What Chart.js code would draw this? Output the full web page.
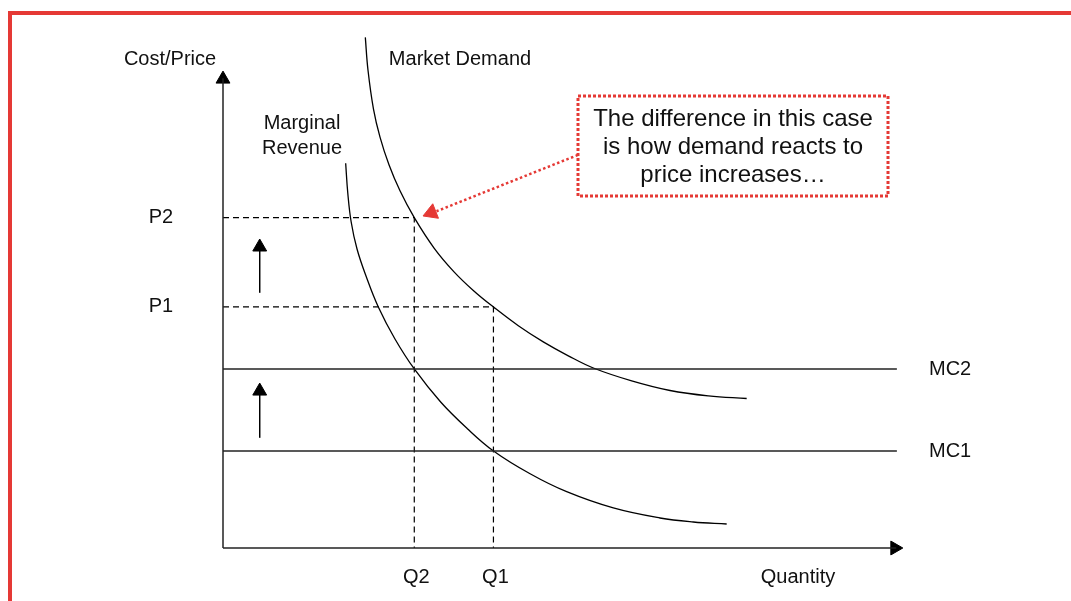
<!DOCTYPE html>
<html>
<head>
<meta charset="utf-8">
<script src="https://cdn.jsdelivr.net/npm/chart.js@4.4.1/dist/chart.umd.min.js"></script>
<style>
    body { margin: 0; background: #fff; }
    #wrap { position: relative; width: 1071px; height: 601px; overflow: hidden; }
    #frame { position: absolute; left: 8px; top: 11px; right: 0; bottom: 0;
             border-top: 4px solid #e53935; border-left: 4px solid #e53935; pointer-events: none; }
</style>
</head>
<body>
<div id="wrap">
    <canvas id="myChart" width="1071" height="601"></canvas>
    <div id="frame"></div>
</div>
<script>
// curves (quantity 0-100, price 0-110)
const demandQ = [20.93, 21.32, 22.13, 23.09, 24.41, 26.03, 28.13, 31.04, 33.94, 36.85, 39.75, 43.43, 47.10, 50.78, 54.46, 60.10, 65.74, 71.38, 77.01];
const demandP = [107.06, 100.21, 92.03, 86.14, 80.34, 74.88, 69.25, 62.88, 57.95, 53.94, 50.55, 46.60, 43.21, 40.29, 37.74, 35.04, 33.02, 31.89, 31.34];

const mrQ = [18.04, 18.35, 18.85, 19.71, 21.03, 22.84, 25.29, 28.13, 32.01, 35.90, 39.78, 45.16, 50.54, 57.40, 64.26, 69.16, 74.07];
const mrP = [80.65, 74.42, 68.34, 62.68, 57.02, 50.52, 43.82, 37.53, 30.61, 25.07, 20.34, 15.56, 11.80, 8.39, 6.29, 5.45, 5.03];

const priceLabels = ['P1', 'P2'];
const priceLevels = [50.55, 69.25];
const qtyLabels = ['Q1', 'Q2'];
const qtyLevels = [39.77, 28.13];

const mcLabels = ['MC1', 'MC2'];
const mcLevels = [20.34, 37.53];
const mcEnd = 99.1;

// the two small "shift up" arrows
const shiftX = [5.4, 5.4];
const shiftFrom = [53.5, 23.1];
const shiftTo = [62.5, 32.3];

const noteLines = ['The difference in this case', 'is how demand reacts to', 'price increases…'];

const RED = '#e53935';
const FONT = '"Liberation Sans", Arial, Helvetica, sans-serif';

function pts(xs, ys) {
    return xs.map((x, i) => ({ x: x, y: ys[i] }));
}

function lineSet(data, opts) {
    return Object.assign({
        data: data,
        showLine: true,
        borderColor: '#000',
        borderWidth: 1.3,
        pointRadius: 0,
        fill: false,
        clip: false
    }, opts || {});
}

function headSet(x, y, rot, color, r) {
    return {
        data: [{ x: x, y: y }],
        showLine: false,
        pointStyle: 'triangle',
        rotation: rot,
        pointRadius: r || 8,
        backgroundColor: color || '#000',
        borderColor: color || '#000',
        borderWidth: 1,
        clip: false
    };
}

let datasets = [];

// axes
datasets.push(lineSet([{ x: 0, y: 0 }, { x: 0, y: 98.5 }], { borderColor: '#222', borderWidth: 1.5 }));
datasets.push(lineSet([{ x: 0, y: 0 }, { x: 99, y: 0 }], { borderColor: '#222', borderWidth: 1.5 }));
datasets.push(headSet(0, 98.3, 0));
datasets.push(headSet(98.8, 0, 90));

// MC lines
mcLevels.forEach(l => {
    datasets.push(lineSet([{ x: 0, y: l }, { x: mcEnd, y: l }], { borderColor: '#222', borderWidth: 1.5 }));
});

// dashed guides
priceLevels.forEach((p, i) => {
    let q = qtyLevels[i];
    datasets.push(lineSet([{ x: 0, y: p }, { x: q, y: p }, { x: q, y: 0 }], { borderDash: [6, 4], borderWidth: 1.2 }));
});

// curves
datasets.push(lineSet(pts(demandQ, demandP), { tension: 0.4 }));
datasets.push(lineSet(pts(mrQ, mrP), { tension: 0.4 }));

// shift arrows
shiftX.forEach((x, i) => {
    datasets.push(lineSet([{ x: x, y: shiftFrom[i] }, { x: x, y: shiftTo[i] }], { borderWidth: 1.5 }));
    datasets.push(headSet(x, shiftTo[i] + 0.6, 0, '#000', 8));
});

// red dotted pointer to demand curve
datasets.push(lineSet([{ x: 52.2, y: 82.4 }, { x: 31.4, y: 70.6 }], { borderColor: RED, borderWidth: 2.5, borderDash: [2.5, 2.5] }));
datasets.push(headSet(30.65, 70.3, 248.5, RED, 9));

const textPlugin = {
    id: 'texts',
    afterDatasetsDraw(chart) {
        const ctx = chart.ctx;
        const xs = chart.scales.x, ys = chart.scales.y;
        ctx.save();
        ctx.fillStyle = '#111';
        ctx.font = '20px ' + FONT;
        ctx.textAlign = 'center';
        ctx.textBaseline = 'alphabetic';

        ctx.fillText('Cost/Price', 170, 65);
        ctx.fillText('Market Demand', 460, 65);
        ctx.fillText('Marginal', 302, 129);
        ctx.fillText('Revenue', 302, 154);
        ctx.fillText('Quantity', 798, 583);

        priceLabels.forEach((t, i) => ctx.fillText(t, 161, ys.getPixelForValue(priceLevels[i]) + 5));
        qtyLabels.forEach((t, i) => ctx.fillText(t, xs.getPixelForValue(qtyLevels[i]) + 2, 583));

        ctx.textAlign = 'left';
        mcLabels.forEach((t, i) => ctx.fillText(t, 929, ys.getPixelForValue(mcLevels[i]) + 6));

        // note box
        ctx.strokeStyle = RED;
        ctx.lineWidth = 3;
        ctx.setLineDash([3, 2]);
        ctx.strokeRect(578, 96, 310, 100);
        ctx.setLineDash([]);
        ctx.font = '24px ' + FONT;
        ctx.textAlign = 'center';
        noteLines.forEach((t, i) => ctx.fillText(t, 733, 126 + i * 28));
        ctx.restore();
    }
};

var ctx = document.getElementById('myChart');
var myChart = new Chart(ctx, {
    type: 'scatter',
    data: { datasets: datasets },
    options: {
        responsive: false,
        animation: false,
        layout: { padding: { left: 223, right: 168, top: 23.3, bottom: 53 } },
        scales: {
            x: { type: 'linear', min: 0, max: 100, display: false },
            y: { type: 'linear', min: 0, max: 110, display: false }
        },
        plugins: {
            legend: { display: false },
            tooltip: { enabled: false }
        }
    },
    plugins: [textPlugin]
});
</script>
</body>
</html>
